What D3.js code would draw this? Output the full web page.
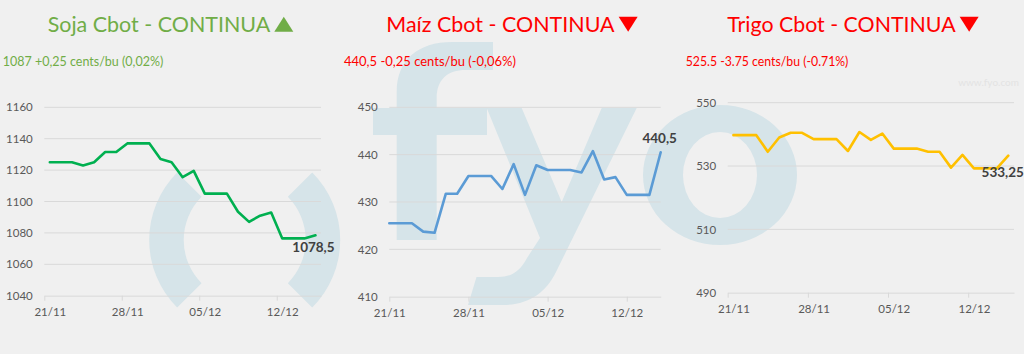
<!DOCTYPE html>
<html>
<head>
<meta charset="utf-8">
<script src="https://cdn.jsdelivr.net/npm/d3@7"></script>
<style>
  html, body { margin: 0; padding: 0; background: #f0f0f0; }
  svg { display: block; font-family: Lato, "Open Sans", sans-serif; }
</style>
</head>
<body>
<div id="chart"></div>
<script>
// fechas con dato (sin domingos)
const fechas = ["21/11","23/11","24/11","25/11","26/11","27/11","28/11","30/11","01/12","02/12",
  "03/12","04/12","05/12","07/12","08/12","09/12","10/12","11/12","12/12","14/12","15/12"];

// cents/bu
const soja  = [1125,1125,1123,1125,1131.5,1131.5,1137,1137,1127,1125,1115.5,1119.5,1105,1105,1093.5,1087,1091,1093,1076.5,1076.5,1078.5];
const maiz  = [425.5,425.5,423.75,423.5,431.75,431.75,435.5,435.5,432.75,438,431.5,437.75,436.75,436.75,436.25,440.75,434.75,435.25,431.5,431.5,440.5];
const trigo = [539.75,539.75,534.5,539,540.5,540.5,538.5,538.5,534.75,540.75,538.25,540.25,535.5,535.5,534.5,534.5,529.5,533.5,529.25,529.25,533.25];

const sojaTicks  = [1040,1060,1080,1100,1120,1140,1160];
const maizTicks  = [410,420,430,440,450];
const trigoTicks = [490,510,530,550];
const fechaTicks = ["21/11","28/11","05/12","12/12"];

const titulos    = ["Soja Cbot - CONTINUA", "Maíz Cbot - CONTINUA", "Trigo Cbot - CONTINUA"];
const subtitulos = ["1087 +0,25 cents/bu (0,02%)", "440,5 -0,25 cents/bu (-0,06%)", "525.5 -3.75 cents/bu (-0.71%)"];

const parse = s => d3.timeParse("%d/%m/%Y")(s + "/2020");
const DIA = 864e5;

const paneles = [
  { serie: soja, ticks: sojaTicks, titulo: titulos[0], sub: subtitulos[0], tc: "#70ad47", sube: true,
    linea: "#00b050", x0: 44.3, x1: 321, yb: 295.7, yt: 107.3, entre: true, cx: 170.5, tw: 222.6,
    sx: 2.7, sw: 160.6, ldx: -2, ldy: 16.5 },
  { serie: maiz, ticks: maizTicks, titulo: titulos[1], sub: subtitulos[1], tc: "#ff0000", sube: false,
    linea: "#5b9bd5", x0: 389.3, x1: 660.7, yb: 296.7, yt: 107.3, entre: false, cx: 512, tw: 228.3,
    sx: 344, sw: 172, ldx: -1, ldy: -9.5 },
  { serie: trigo, ticks: trigoTicks, titulo: titulos[2], sub: subtitulos[2], tc: "#ff0000", sube: false,
    linea: "#ffc000", x0: 727.7, x1: 1014, yb: 292.7, yt: 102.7, entre: true, cx: 853, tw: 228.3,
    sx: 685.7, sw: 162.7, ldx: -5.5, ldy: 21.5 }
];

const svg = d3.select("#chart").append("svg").attr("width", 1024).attr("height", 354);
svg.append("rect").attr("width", 1024).attr("height", 354).attr("fill", "#f0f0f0");

const gMarca = svg.append("g").attr("fill", "#d6e4e9");
const gGrid = svg.append("g");
const gSerie = svg.append("g");

paneles.forEach(p => {
  const ini = parse(fechas[0]);
  const fin = new Date(+parse(fechas[fechas.length - 1]) + (p.entre ? DIA : 0));
  const off = p.entre ? DIA / 2 : 0;
  const x = d3.scaleTime().domain([ini, fin]).range([p.x0, p.x1]);
  const y = d3.scaleLinear().domain(d3.extent(p.ticks)).range([p.yb, p.yt]);
  const datos = fechas.map((f, i) => ({ fecha: new Date(+parse(f) + off), v: p.serie[i] }));

  // grilla
  gGrid.selectAll(null).data(p.ticks.slice(1)).enter().append("line")
    .attr("x1", p.x0).attr("x2", p.x1)
    .attr("y1", d => y(d)).attr("y2", d => y(d))
    .attr("stroke", "#d9d9d9").attr("stroke-width", 1);

  // eje y
  const ay = gGrid.append("g").attr("transform", `translate(${p.x0},0)`)
    .call(d3.axisLeft(y).tickValues(p.ticks).tickSize(0).tickPadding(11.5).tickFormat(d3.format("d")));
  ay.select(".domain").remove();
  ay.selectAll("text").attr("fill", "#595959").style("font-size", "11.5px").style("font-family", "Lato");

  // eje x
  const ax = gGrid.append("g").attr("transform", `translate(0,${p.yb})`)
    .call(d3.axisBottom(x).tickValues(fechaTicks.map(parse)).tickSize(5).tickSizeOuter(0)
      .tickFormat(d3.timeFormat("%d/%m")));
  ax.select(".domain").attr("stroke", "#d9d9d9");
  ax.selectAll(".tick line").attr("stroke", "#d9d9d9");
  ax.selectAll("text").attr("fill", "#595959").style("font-size", "11.5px").style("font-family", "Lato")
    .attr("y", 20.5).attr("dy", 0)
    .attr("dx", x(new Date(+ini + off)) - p.x0);

  // línea
  gSerie.append("path").datum(datos)
    .attr("fill", "none").attr("stroke", p.linea).attr("stroke-width", 2.6)
    .attr("stroke-linejoin", "round").attr("stroke-linecap", "round")
    .attr("d", d3.line().x(d => x(d.fecha)).y(d => y(d.v)));

  const ult = datos[datos.length - 1];
  gSerie.append("text")
    .attr("x", x(ult.fecha) + p.ldx).attr("y", y(ult.v) + p.ldy)
    .attr("text-anchor", "middle").attr("fill", "#404040")
    .style("font-size", "13.5px").style("font-weight", 700)
    .text(String(ult.v).replace(".", ","));

  // título
  const total = p.tw + 4 + 19;
  const tx = p.cx - total / 2;
  svg.append("text").attr("x", tx).attr("y", 32)
    .attr("fill", p.tc).style("font-size", "22px")
    .attr("textLength", p.tw).attr("lengthAdjust", "spacingAndGlyphs")
    .text(p.titulo);
  const fx = tx + p.tw + 4;
  const tri = p.sube
    ? [[fx, 31.7], [fx + 19, 31.7], [fx + 9.5, 16.7]]
    : [[fx, 16.7], [fx + 19, 16.7], [fx + 9.5, 31.7]];
  svg.append("path").attr("d", "M" + tri.join("L") + "Z").attr("fill", p.tc);

  svg.append("text").attr("x", p.sx).attr("y", 65.5)
    .attr("fill", p.tc).style("font-size", "13px")
    .attr("textLength", p.sw).attr("lengthAdjust", "spacingAndGlyphs")
    .text(p.sub);
});

// marca de agua "fyo"
const arco = d3.arc().innerRadius(61).outerRadius(95.5);
gMarca.append("path").attr("transform", "translate(244.7,240)")
  .attr("d", arco({ startAngle: Math.PI * 1.25, endAngle: Math.PI * 1.75 }));
gMarca.append("path").attr("transform", "translate(244.7,240)")
  .attr("d", arco({ startAngle: Math.PI * 0.25, endAngle: Math.PI * 0.75 }));
gMarca.append("path")
  .attr("d", "M396.7,240L396.7,135L373,135L373,108L396.7,108L396.7,92C396.7,60 418,42 452,42L493,42L493,70" +
    "L466,70C447,70 436.7,80 436.7,98L436.7,108L487,108L487,135L436.7,135L436.7,240Z");
gMarca.append("path")
  .attr("d", "M486.7,108L521.7,108L561.7,202L601.7,108L636.7,108L556,272C545,294 528,305 502,305L468,305" +
    "L476.5,277L498,277C512,277 520,271 527,258L540,238Z");
gMarca.append("path").attr("fill-rule", "evenodd")
  .attr("d", "M643,175a77,70 0 1,0 154,0a77,70 0 1,0 -154,0Z M683,175a37,43 0 1,0 74,0a37,43 0 1,0 -74,0Z");

svg.append("text").attr("x", 1019).attr("y", 86).attr("text-anchor", "end")
  .attr("fill", "#e3e3e3").style("font-size", "10px").text("www.fyo.com");
</script>
</body>
</html>
